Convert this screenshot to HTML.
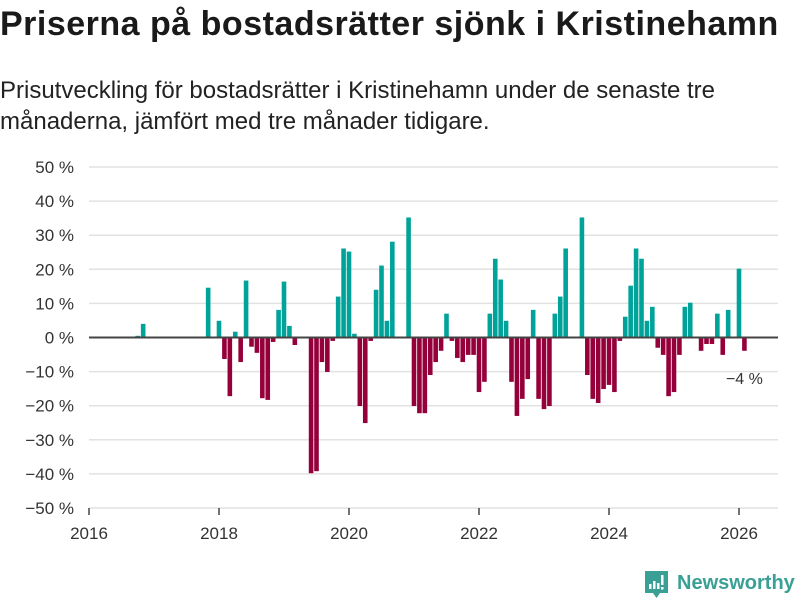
<!DOCTYPE html>
<html><head><meta charset="utf-8"><style>
body{margin:0;background:#fff;width:800px;height:600px;overflow:hidden;font-family:"Liberation Sans","DejaVu Sans",sans-serif;color:#222}
h1{position:absolute;left:0;top:5px;margin:0;font-size:34px;font-weight:bold;letter-spacing:0.5px;color:#1a1a1a;white-space:nowrap}
p{position:absolute;left:0;top:75px;margin:0;font-size:24px;line-height:31px;color:#222;width:760px}
svg{position:absolute;left:0;top:0}
</style></head><body>
<h1>Priserna på bostadsrätter sjönk i Kristinehamn</h1>
<p>Prisutveckling för bostadsrätter i Kristinehamn under de senaste tre<br>månaderna, jämfört med tre månader tidigare.</p>
<svg id="chart" width="800" height="600"></svg>
<script>
const startYear = 2016;
const values = [null,null,null,null,null,null,null,null,null,0.5,4,null,
null,null,null,null,null,null,null,null,null,null,14.6,null,
4.9,-6.3,-17.2,1.7,-7.2,16.7,-2.7,-4.5,-17.8,-18.3,-1.3,8.1,
16.4,3.4,-2.2,null,null,-39.8,-39.2,-7.2,-10.1,-1.0,12.0,26.1,
25.2,1.1,-20.1,-25.1,-1.0,14.0,21.1,4.9,28.1,null,null,35.2,
-20.1,-22.2,-22.2,-11.0,-7.2,-3.9,7.0,-1.0,-6.0,-7.2,-5.1,-5.1,
-16.0,-13.0,7.0,23.1,17.0,4.9,-13.0,-23.0,-18.0,-12.2,8.1,-18.0,
-21.0,-20.1,7.0,12.0,26.1,null,null,35.2,-11.0,-18.0,-19.2,-15.1,
-13.9,-16.0,-1.0,6.1,15.2,26.1,23.1,4.9,9.0,-3.0,-5.1,-17.2,
-16.0,-5.1,9.0,10.2,null,-3.9,-1.9,-1.9,7.0,-5.1,8.1,null,
20.2,-3.9];
const yTicks = [50,40,30,20,10,0,-10,-20,-30,-40,-50];
const xTicks = [2016,2018,2020,2022,2024,2026];
const lastLabel = "\u22124 %";

const svg = document.getElementById('chart');
const NS = 'http://www.w3.org/2000/svg';
const x0 = 89, pxPerYear = 65, yZero = 337.5, pxPerPct = 3.41, xEnd = 778;
const xScale = m => x0 + m * pxPerYear / 12;
const yearX = y => x0 + (y - startYear) * pxPerYear;
const yScale = v => yZero - v * pxPerPct;
function el(tag, attrs, parent){const e=document.createElementNS(NS,tag);for(const k in attrs)e.setAttribute(k,attrs[k]);(parent||svg).appendChild(e);return e;}

yTicks.forEach(t=>{
  const g = el('line',{x1:x0,x2:xEnd,y1:yScale(t),y2:yScale(t),stroke:'#e2e2e2','stroke-width':1.5});
  
  
  const lb = el('text',{x:74,y:yScale(t)+6,'text-anchor':'end','font-size':17,fill:'#333'});
  lb.textContent = (t<0?'\u2212'+(-t):t)+' %';
  
  
});
xTicks.forEach(y=>{
  const tk = el('line',{x1:yearX(y),x2:yearX(y),y1:yScale(-50),y2:yScale(-50)+7,stroke:'#444','stroke-width':1.5});
  
  
  const lb = el('text',{x:yearX(y),y:539,'text-anchor':'middle','font-size':17,fill:'#333'});
  lb.textContent = y;
  
  
});
values.forEach((v,m)=>{
  if(v===null) return;
  const x = xScale(m), y = yScale(v);
  const r = el('rect',{x:x-2.3,width:4.6,y:Math.min(y,yZero),height:Math.abs(y-yZero),fill:v>=0?'#00a39a':'#96003a'});
  
  
});
const zl = el('line',{x1:x0,x2:xEnd,y1:yZero,y2:yZero,stroke:'#444','stroke-width':2});


const lastM = values.length-1;
const lab = el('text',{x:xScale(lastM),y:yScale(values[lastM])+33,'text-anchor':'middle','font-size':16,fill:'#333'});
lab.textContent = lastLabel;



const logo = el('g',{});


el('path',{d:'M645 571 h23 v22 h-8 l-3.5 5 l-3.5 -5 h-8 z',fill:'#3aa095'},logo);
el('rect',{x:649,y:584,width:2.5,height:5,fill:'#fff'},logo);
el('rect',{x:653,y:581,width:2.5,height:8,fill:'#fff'},logo);
el('rect',{x:657,y:583,width:2.5,height:6,fill:'#fff'},logo);
el('rect',{x:661,y:575,width:2.5,height:10,fill:'#fff'},logo);
el('rect',{x:661,y:587,width:2.5,height:2.5,fill:'#fff'},logo);
const lt = el('text',{x:677,y:589,'font-size':20,'font-weight':'bold',fill:'#3aa095'},logo);
lt.textContent='Newsworthy';
</script>
</body></html>
